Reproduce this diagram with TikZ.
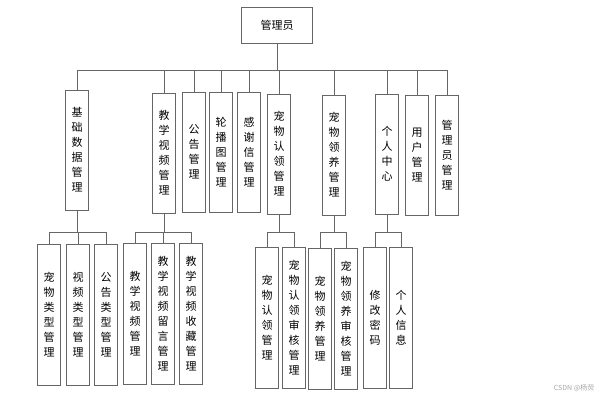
\documentclass[tikz,border=0pt]{standalone}
\usepackage{fontspec}
\newfontfamily\cjk{Noto Sans CJK SC}
\usetikzlibrary{positioning}
\tikzset{vbox/.style={draw=black!60,thick,fill=white,font=\cjk\fontsize{11}{15}\selectfont,align=center,inner sep=0pt,minimum width=23pt},
  topbox/.style={draw=black!60,thick,font=\cjk\fontsize{11}{13}\selectfont,minimum width=71pt,minimum height=36pt},
  link/.style={draw=black!60,thick}}

\begin{document}
\begin{tikzpicture}[x=1pt,y=-1pt]
\useasboundingbox (0,0) rectangle (600,400);
%
\node (root) [topbox] at (277,25) {管理员};

\node (jichu) [vbox,minimum height=120pt] at (77,150) {基\\础\\数\\据\\管\\理};
\node (jiaoxue) [vbox,minimum height=120pt] at (164,153) {教\\学\\视\\频\\管\\理};
\node (gonggao) [vbox,minimum height=120pt] at (194,152) {公\\告\\管\\理};
\node (lunbo) [vbox,minimum height=120pt] at (221,152) {轮\\播\\图\\管\\理};
\node (ganxie) [vbox,minimum height=120pt] at (249,152) {感\\谢\\信\\管\\理};
\node (renling) [vbox,minimum height=120pt] at (279,154) {宠\\物\\认\\领\\管\\理};
\node (lingyang) [vbox,minimum height=120pt] at (334,155) {宠\\物\\领\\养\\管\\理};
\node (geren) [vbox,minimum height=120pt] at (387,154) {个\\人\\中\\心};
\node (yonghu) [vbox,minimum height=120pt] at (417,155) {用\\户\\管\\理};
\node (guanli) [vbox,minimum height=120pt] at (447,155) {管\\理\\员\\管\\理};

\node (chongwu) [vbox,minimum height=141pt] at (49,315) {宠\\物\\类\\型\\管\\理};
\node (shipin) [vbox,minimum height=141pt] at (78,315) {视\\频\\类\\型\\管\\理};
\node (gonglei) [vbox,minimum height=141pt] at (106,315) {公\\告\\类\\型\\管\\理};
\node (jxsp) [vbox,minimum height=141pt] at (135,314) {教\\学\\视\\频\\管\\理};
\node (liuyan) [vbox,minimum height=141pt] at (163,314) {教\\学\\视\\频\\留\\言\\管\\理};
\node (shoucang) [vbox,minimum height=141pt] at (191,314) {教\\学\\视\\频\\收\\藏\\管\\理};
\node (rlgl) [vbox,minimum height=141pt] at (267,318) {宠\\物\\认\\领\\管\\理};
\node (rlsh) [vbox,minimum height=141pt] at (294,318) {宠\\物\\认\\领\\审\\核\\管\\理};
\node (lygl) [vbox,minimum height=141pt] at (320,319) {宠\\物\\领\\养\\管\\理};
\node (lysh) [vbox,minimum height=141pt] at (346,319) {宠\\物\\领\\养\\审\\核\\管\\理};
\node (mima) [vbox,minimum height=141pt] at (375,318) {修\\改\\密\\码};
\node (xinxi) [vbox,minimum height=141pt] at (401,318) {个\\人\\信\\息};

\node (mark) [font=\cjk\fontsize{7}{8}\selectfont,text=black!35,anchor=east] at (598,388) {CSDN @杨荧};

%
\coordinate (bus) at (0,70);
\draw [link] (root.south) -- (root.south |- bus);
\draw [link] (jichu.north |- bus) -- (guanli.north |- bus);
\foreach \n in {jichu,jiaoxue,gonggao,lunbo,ganxie,renling,lingyang,geren,yonghu,guanli}
  \draw [link] (\n.north) -- (\n.north |- bus);

\coordinate (sub) at (0,232);
\foreach \p/\a/\b in {jichu/chongwu/gonglei,jiaoxue/jxsp/shoucang,renling/rlgl/rlsh,lingyang/lygl/lysh,geren/mima/xinxi} {
  \draw [link] (\p.south) -- (\p.south |- sub);
  \draw [link] (\a.north |- sub) -- (\b.north |- sub);
}
\foreach \n in {chongwu,shipin,gonglei,jxsp,liuyan,shoucang,rlgl,rlsh,lygl,lysh,mima,xinxi}
  \draw [link] (\n.north) -- (\n.north |- sub);
\end{tikzpicture}
\end{document}
